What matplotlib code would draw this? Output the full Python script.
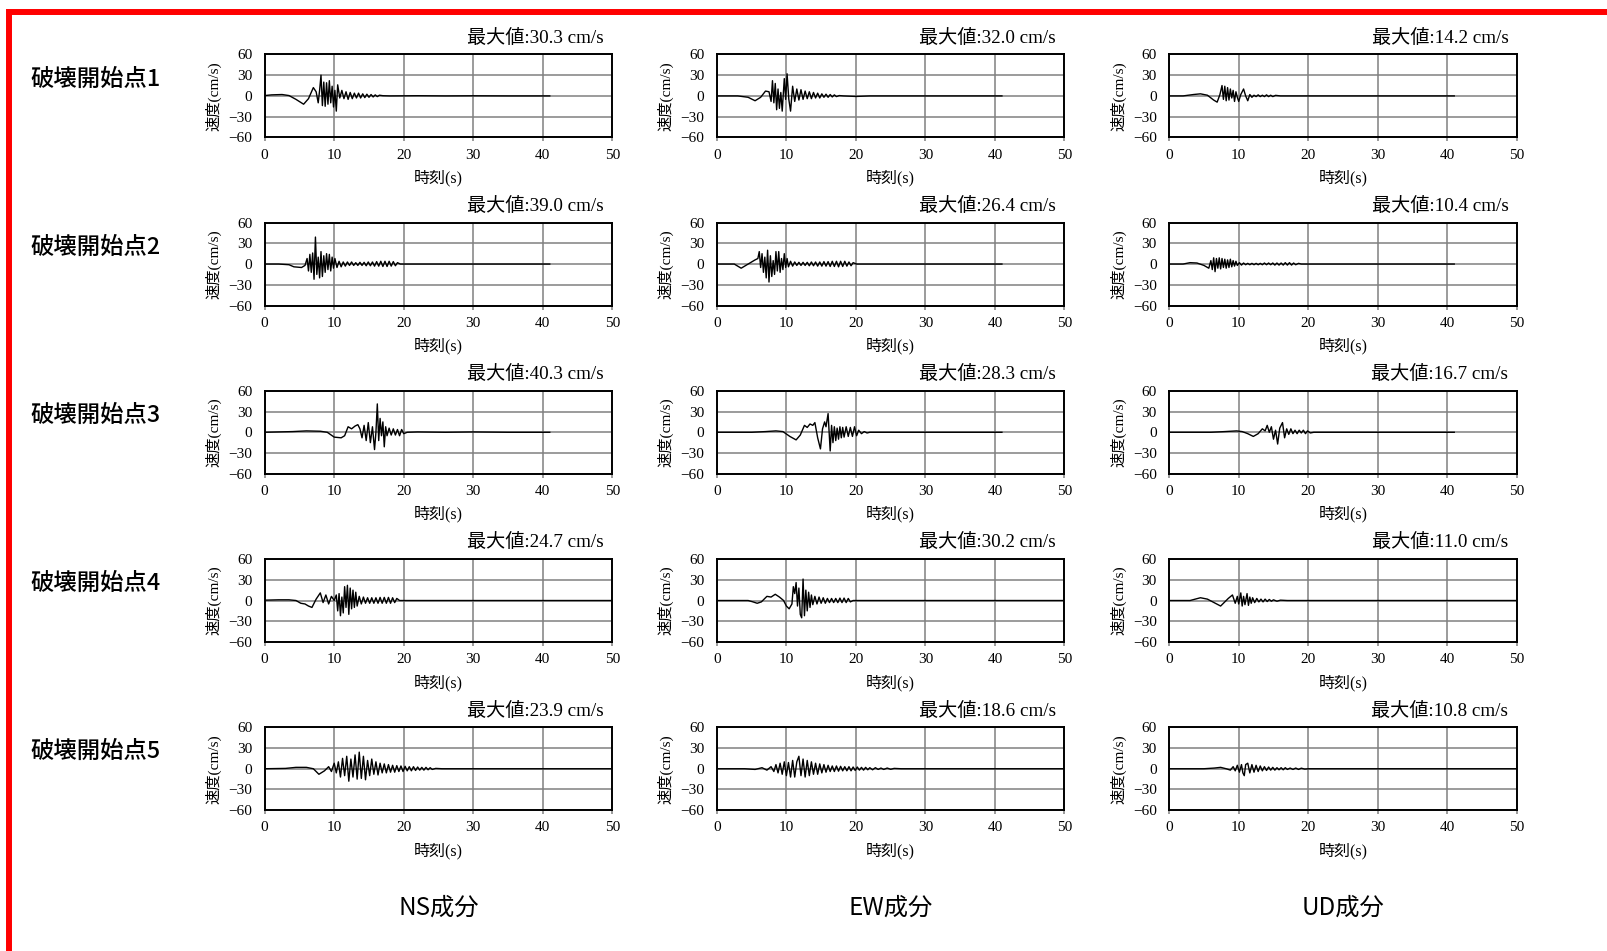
import matplotlib.pyplot as plt
from matplotlib.patches import Rectangle

plt.rcParams['font.family'] = ['Liberation Serif', 'Noto Sans CJK JP']

# labels
row_labels = ['破壊開始点1', '破壊開始点2', '破壊開始点3', '破壊開始点4', '破壊開始点5']
col_labels = ['NS成分', 'EW成分', 'UD成分']
peak_values = [[30.3, 32.0, 14.2],
               [39.0, 26.4, 10.4],
               [40.3, 28.3, 16.7],
               [24.7, 30.2, 11.0],
               [23.9, 18.6, 10.8]]

# velocity waveforms: (time s, velocity cm/s)
ns1 = [(0, 0.5), (1, 1.5), (2.5, 2), (3.5, 0.5), (4.5, -5), (5.6, -12), (6.3, -4), (7.0, 12), (7.4, 6), (7.7, -10),
       (7.9, 8), (8.1, 30), (8.3, -14), (8.5, 20), (8.7, -15), (8.9, 19), (9.1, -12), (9.3, 22), (9.5, -10), (9.7, 14),
       (9.9, -16), (10.1, 8), (10.3, -22), (10.5, 16), (10.8, -3), (11.1, 8), (11.4, -4), (11.7, 6), (12.0, -5), (12.3, 5),
       (12.6, -4), (12.9, 4), (13.2, -3), (13.5, 4), (13.8, -3), (14.1, 3), (14.4, -2.5), (14.7, 2.5), (15.0, -2), (15.3, 2),
       (15.6, -1.5), (15.9, 1.5), (16.2, -1), (16.5, 1), (17.0, 0.3), (18, 0), (22, 0.3), (26, 0), (30, 0.2), (35, 0), (41, 0)]
ew1 = [(0, 0), (3, 0), (4.5, -2), (5.5, -7), (6.3, -2), (7.0, 7), (7.5, 6), (7.8, -8), (8.0, 22), (8.2, -10),
       (8.4, 18), (8.6, -20), (8.8, 10), (9.0, -18), (9.2, 5), (9.4, -22), (9.7, 25), (9.9, -5), (10.1, 32), (10.35, -5),
       (10.6, -22), (10.9, 14), (11.2, -8), (11.5, 10), (11.8, -6), (12.1, 9), (12.4, -5), (12.7, 7), (13.0, -4), (13.3, 6),
       (13.6, -4), (13.9, 5), (14.2, -3), (14.5, 4), (14.8, -3), (15.1, 3), (15.4, -2), (15.7, 2.5), (16.0, -2), (16.3, 2),
       (16.6, -1.5), (16.9, 1.5), (17.2, -1), (17.6, 0.5), (18.2, 0), (20, -0.8), (22, 0), (26, 0), (32, 0), (41, 0)]
ud1 = [(0, 0), (2, 0), (3.5, 2), (4.5, 3), (5.5, 1), (6.4, -6), (6.9, -9), (7.3, 2), (7.6, 15), (7.8, -5),
       (8.0, 14), (8.2, -7), (8.4, 12), (8.6, -6), (8.8, 10), (9.0, -3), (9.2, 8), (9.4, -8), (9.6, 6), (9.8, -2),
       (10.0, -8), (10.3, 2), (10.7, 10), (11.0, 0), (11.3, -7), (11.6, 2), (11.9, -2), (12.2, 1), (12.5, -1), (12.8, 1.5),
       (13.1, -1), (13.4, 1), (13.7, -1), (14.0, 1.5), (14.3, -1), (14.6, 1), (14.9, -1), (15.3, 0.8), (16, 0), (41, 0)]

ns2 = [(0, 0), (2, 0), (3.5, -1), (4.2, -4), (5.3, -5), (5.8, -2), (6.1, 8), (6.3, -10), (6.5, 14), (6.7, -12),
       (6.9, 16), (7.1, -22), (7.3, 39), (7.5, -15), (7.7, 10), (7.9, -20), (8.1, 18), (8.3, -18), (8.5, 12), (8.7, -12),
       (8.9, 15), (9.1, -8), (9.3, 14), (9.5, -10), (9.7, 10), (9.9, -6), (10.1, 8), (10.4, -5), (10.7, 4), (11.0, -4),
       (11.3, 3), (11.6, -3), (11.9, 3), (12.2, -2), (12.5, 3), (12.8, -2), (13.1, 2), (13.4, -2), (13.7, 2.5), (14.0, -2),
       (14.3, 2.5), (14.6, -2.5), (14.9, 3), (15.2, -2.5), (15.5, 3), (15.8, -3), (16.1, 3.5), (16.4, -3), (16.7, 4), (17.0, -3.5),
       (17.3, 4), (17.6, -3.5), (17.9, 4), (18.2, -3), (18.5, 3.5), (18.8, -2.5), (19.1, 2), (19.5, 0), (41, 0)]
ew2 = [(0, 0), (2.5, 0), (3.5, -6), (4.5, 0), (5.5, 6), (5.9, 8), (6.1, 18), (6.3, -5), (6.5, 15), (6.7, -12),
       (6.9, 10), (7.1, -20), (7.3, 20), (7.5, -26), (7.7, 12), (7.9, -18), (8.1, 5), (8.3, -15), (8.5, 18), (8.7, -10),
       (8.9, 18), (9.1, -12), (9.3, 8), (9.5, -8), (9.7, 15), (9.9, -5), (10.1, 8), (10.3, -4), (10.6, 4), (10.9, -3),
       (11.2, 3), (11.5, -2), (11.8, 2.5), (12.1, -2), (12.4, 2.5), (12.7, -2), (13.0, 2.5), (13.3, -2.5), (13.6, 3), (13.9, -2.5),
       (14.2, 3), (14.5, -3), (14.8, 3), (15.1, -3), (15.4, 3.5), (15.7, -3), (16.0, 3.5), (16.3, -3.5), (16.6, 4), (16.9, -3.5),
       (17.2, 4), (17.5, -4), (17.8, 4), (18.1, -3.5), (18.4, 4), (18.7, -3), (19.0, 3), (19.3, -2.5), (19.6, 2), (20.1, 0), (41, 0)]
ud2 = [(0, 0), (2, 0), (3, 2), (4, 1.5), (5, -2), (5.7, -6), (6.0, 5), (6.2, -8), (6.4, 9), (6.6, -11),
       (6.8, 8), (7.0, -6), (7.2, 9), (7.4, -7), (7.6, 8), (7.8, -5), (8.0, 7), (8.2, -6), (8.4, 6), (8.6, -5),
       (8.8, 7), (9.0, -4), (9.2, 5), (9.4, -3), (9.6, 4), (9.8, -2), (10.1, 2), (10.4, -1.5), (10.7, 1.5), (11.0, -1),
       (11.3, 1), (11.6, -1), (11.9, 1), (12.2, -1), (12.5, 1), (12.8, -1), (13.1, 1), (13.4, -1), (13.7, 1.5), (14.0, -1),
       (14.3, 1.5), (14.6, -1), (14.9, 1.5), (15.2, -1.5), (15.5, 1.5), (15.8, -1.5), (16.1, 1.5), (16.4, -1.5), (16.7, 2), (17.0, -1.5),
       (17.3, 2), (17.6, -1.5), (17.9, 1.5), (18.2, -1), (18.6, 1), (19.0, 0), (41, 0)]

ns3 = [(0, 0), (4, 1), (6, 2), (8, 1.5), (9, 0), (10, -7), (11, -8), (11.5, -5), (12.0, 8), (12.5, 5),
       (13.0, 9), (13.4, 11), (13.7, 5), (14.0, -8), (14.3, 10), (14.6, -12), (14.9, 14), (15.2, -15), (15.5, 8), (15.8, -25),
       (16.0, 0), (16.2, 41), (16.4, -12), (16.6, 20), (16.8, -5), (17.0, 15), (17.2, -21), (17.4, 8), (17.6, -5), (17.9, 6),
       (18.2, -4), (18.5, 5), (18.8, -4), (19.1, 4), (19.4, -5), (19.7, 4), (20.0, -2), (20.5, 0), (22, 0.5), (26, 0),
       (30, 0.5), (35, 0), (41, 0)]
ew3 = [(0, 0), (5, 0), (7, 1), (8.5, 2), (9.5, 1), (10.5, -6), (11.4, -11), (12.0, -4), (12.6, 10), (13.0, 7),
       (13.4, 12), (13.8, 10), (14.1, 14), (14.5, -8), (14.9, -24), (15.2, 5), (15.5, 15), (15.7, 8), (16.0, 27), (16.3, -27),
       (16.5, 10), (16.7, -15), (16.9, 8), (17.1, -12), (17.3, 6), (17.5, -10), (17.7, 8), (17.9, -8), (18.1, 7), (18.3, -7),
       (18.6, 8), (18.9, -6), (19.2, 7), (19.5, -6), (19.8, 8), (20.1, -5), (20.4, 3), (20.8, -2), (21.2, 1), (21.6, -1),
       (22, 0), (41, 0)]
ud3 = [(0, 0), (6, 0), (8, 1), (9.7, 2), (10.5, 1), (11.3, -2), (12.1, -6), (12.8, -2), (13.4, 5), (13.8, 2),
       (14.1, 10), (14.4, 0), (14.7, 8), (15.0, -10), (15.3, 3), (15.6, -17), (15.9, 6), (16.3, 14), (16.6, -8), (16.9, 5),
       (17.2, -3), (17.5, 5), (17.8, -2), (18.1, 3), (18.4, -2), (18.7, 3), (19.0, -1), (19.3, 3), (19.6, -2), (19.9, 2),
       (20.3, -1), (20.8, 0), (41, 0)]

ns4 = [(0, 0.5), (2, 1), (3.5, 1), (4.5, 0), (5.2, -4), (5.8, -5), (6.3, -8), (6.8, -10), (7.4, 2), (8.0, 11),
       (8.4, -3), (8.8, 8), (9.2, -5), (9.6, 6), (10.0, 0), (10.3, 8), (10.5, -15), (10.7, 10), (10.9, -22), (11.1, 5),
       (11.3, -18), (11.5, 20), (11.7, -10), (11.9, 22), (12.1, -20), (12.3, 18), (12.5, -12), (12.7, 15), (12.9, -10), (13.1, 12),
       (13.3, -8), (13.6, 6), (13.9, -5), (14.2, 5), (14.5, -4), (14.8, 4), (15.1, -4), (15.4, 4), (15.7, -4), (16.0, 4),
       (16.3, -4), (16.6, 4.5), (16.9, -4), (17.2, 4.5), (17.5, -4), (17.8, 4.5), (18.1, -4), (18.4, 4), (18.7, -3), (19.0, 3),
       (19.4, 0), (50, 0)]
ew4 = [(0, 0), (4.5, 0), (5.2, -2), (5.8, -4), (6.4, -2), (7.2, 6), (7.8, 5), (8.4, 9), (9.0, 5), (9.6, 0),
       (10.0, -8), (10.4, -12), (10.8, -5), (11.0, 20), (11.2, 10), (11.4, 26), (11.6, -8), (11.8, 18), (12.0, -20), (12.2, -25),
       (12.4, 31), (12.6, -22), (12.8, 15), (13.0, -15), (13.2, 12), (13.4, -10), (13.6, 8), (13.8, -6), (14.1, 6), (14.4, -5),
       (14.7, 5), (15.0, -4), (15.3, 4), (15.6, -4), (15.9, 3), (16.2, -3), (16.5, 3), (16.8, -3), (17.1, 3), (17.4, -3),
       (17.7, 3.5), (18.0, -3), (18.3, 3.5), (18.6, -3), (18.9, 3), (19.2, -2), (19.6, 0), (50, 0)]
ud4 = [(0, 0), (3, 0), (4.5, 4), (5.5, 2), (7.4, -8), (8.5, 3), (9.1, 8), (9.5, -4), (9.8, 6), (10.0, -5),
       (10.3, 11), (10.5, -8), (10.7, 6), (10.9, -6), (11.2, 10), (11.4, -7), (11.6, 5), (11.8, -4), (12.0, 4), (12.3, -3),
       (12.6, 3), (12.9, -2), (13.2, 2), (13.5, -2), (13.8, 2), (14.1, -1.5), (14.4, 1.5), (14.7, -1), (15.0, 1), (15.5, -1),
       (16, 0.5), (17, 0), (50, 0)]

ns5 = [(0, 0), (3, 0.5), (4.5, 2), (6, 2), (7, 0), (7.8, -8), (8.6, -3), (9.2, 3), (9.6, -4), (10.0, 8),
       (10.3, -6), (10.6, 10), (10.9, -12), (11.2, 15), (11.5, -10), (11.8, 18), (12.1, -18), (12.4, 14), (12.7, -12), (13.0, 20),
       (13.3, -15), (13.6, 24), (13.9, -14), (14.2, 18), (14.5, -16), (14.8, 12), (15.1, -10), (15.4, 14), (15.7, -8), (16.0, 10),
       (16.3, -9), (16.6, 8), (16.9, -6), (17.2, 7), (17.5, -6), (17.8, 6), (18.1, -5), (18.4, 5), (18.7, -5), (19.0, 4.5),
       (19.3, -4), (19.6, 4), (19.9, -4), (20.2, 3.5), (20.5, -3), (20.8, 3), (21.1, -3), (21.4, 3), (21.7, -2.5), (22.0, 2.5),
       (22.3, -2), (22.6, 2), (22.9, -2), (23.2, 2), (23.5, -1.5), (23.8, 1.5), (24.1, -1), (24.6, 0.5), (25.5, 0), (50, 0)]
ew5 = [(0, 0), (4, 0), (5.5, -1), (6.5, 1.5), (7.2, -2), (7.8, 3), (8.2, -4), (8.5, 6), (8.8, -6), (9.1, 8),
       (9.4, -8), (9.7, 10), (10.0, -10), (10.3, 9), (10.6, -12), (10.9, 12), (11.2, -12), (11.5, 10), (11.8, 18), (12.1, -10),
       (12.4, 14), (12.7, -12), (13.0, 12), (13.3, -10), (13.6, 10), (13.9, -8), (14.2, 8), (14.5, -8), (14.8, 7), (15.1, -6),
       (15.4, 6), (15.7, -5), (16.0, 5), (16.3, -4), (16.6, 4), (16.9, -4), (17.2, 4), (17.5, -3.5), (17.8, 3.5), (18.1, -3),
       (18.4, 3), (18.7, -3), (19.0, 3), (19.3, -3), (19.6, 2.5), (19.9, -2.5), (20.2, 2.5), (20.5, -2), (20.8, 2), (21.1, -2),
       (21.4, 2), (21.7, -1.5), (22.0, 1.5), (22.4, -1.5), (22.8, 1.5), (23.2, -1), (23.6, 1), (24.0, -1), (24.5, 1), (25.0, -0.8),
       (25.5, 0.5), (26.5, 0), (50, 0)]
ud5 = [(0, 0), (5, 0), (6.5, 1), (7.4, 2), (8.2, 0), (8.8, -2), (9.2, 3), (9.5, -3), (9.8, 5), (10.1, -5),
       (10.4, 6), (10.6, -6), (10.8, -10), (11.0, 6), (11.3, 8), (11.6, -6), (11.9, 6), (12.2, -5), (12.5, 5), (12.8, -4),
       (13.1, 4), (13.4, -3), (13.7, 3), (14.0, -2.5), (14.3, 2.5), (14.6, -2), (14.9, 2), (15.2, -2), (15.5, 1.5), (15.8, -1.5),
       (16.1, 1.5), (16.4, -1.5), (16.7, 1.5), (17.0, -1), (17.4, 1), (17.8, -1), (18.2, 1), (18.6, -1), (19.0, 0.8), (19.5, -0.5),
       (20, 0), (50, 0)]

traces = [[ns1, ew1, ud1],
          [ns2, ew2, ud2],
          [ns3, ew3, ud3],
          [ns4, ew4, ud4],
          [ns5, ew5, ud5]]

fig = plt.figure(figsize=(16.08, 9.51), dpi=100)

lefts = [0.1646, 0.4458, 0.7271]
bottoms = [0.8555, 0.6787, 0.5018, 0.3249, 0.1480]
w, h = 0.2162, 0.0873

for i in range(5):
    for j in range(3):
        ax = fig.add_axes([lefts[j], bottoms[i], w, h])
        t = [p[0] for p in traces[i][j]]
        v = [p[1] for p in traces[i][j]]
        ax.plot(t, v, color='black', lw=1.0, zorder=3)

        ax.set_xlim(0, 50)
        ax.set_ylim(-60, 60)
        ax.set_xticks([0, 10, 20, 30, 40, 50])
        ax.set_yticks([-60, -30, 0, 30, 60])
        ax.grid(True, color='#808080', lw=1.1)
        ax.set_axisbelow(True)
        for s in ax.spines.values():
            s.set_linewidth(1.4)
            s.set_color('black')
        ax.tick_params(axis='x', direction='out', length=3, width=1.1, color='#808080',
                       pad=5, labelsize=11)
        ax.tick_params(axis='y', length=0, pad=9, labelsize=11)

        ax.set_xlabel('時刻(s)', fontsize=11.5)
        ax.xaxis.set_label_coords(0.5, -0.39)
        ax.set_ylabel('速度(cm/s)', fontsize=11)
        ax.yaxis.set_label_coords(-0.124, 0.5)

        ax.text(0.976, 1.2, f'最大値:{peak_values[i][j]:.1f} cm/s', transform=ax.transAxes,
                ha='right', va='center', fontsize=13.8)

    fig.text(0.0187, 1 - (79 + i * 168.2) / 951, row_labels[i], ha='left', va='center',
             fontsize=16.8, fontweight='medium', family=['Noto Sans CJK JP'])

for j in range(3):
    fig.text(lefts[j] + w / 2, 0.0455, col_labels[j], ha='center', va='center',
             fontsize=17.5, family=['Noto Sans CJK JP'])

# red frame (only top and left edges fall inside the image)
frame = Rectangle((9 / 1608, -1), 2, 2 - 11.5 / 951, transform=fig.transFigure,
                  fill=False, edgecolor='red', lw=4.3)
fig.patches.append(frame)

fig.savefig('out.png', dpi=100, facecolor='white')
